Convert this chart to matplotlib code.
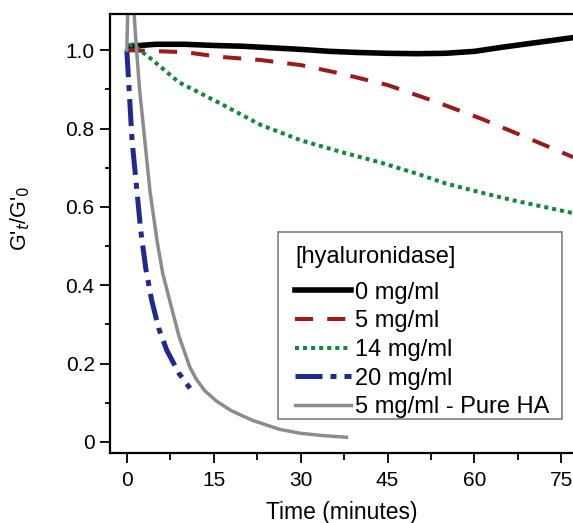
import matplotlib
matplotlib.use("Agg")
import matplotlib.pyplot as plt
from matplotlib.patches import Rectangle
from matplotlib.ticker import MultipleLocator, FixedLocator

plt.rcParams['font.family'] = ['Liberation Sans', 'DejaVu Sans']

# G't/G'0 vs time (minutes)
t_0 = [0.5, 5, 10, 15, 20, 25, 30, 35, 40, 45, 50, 55, 60, 65, 70, 77]
g_0 = [1.01, 1.015, 1.015, 1.012, 1.01, 1.006, 1.002, 0.997, 0.994, 0.992,
       0.991, 0.992, 0.997, 1.008, 1.018, 1.032]

t_5 = [0, 10, 16, 23, 30, 37, 45, 53, 61, 69, 77]
g_5 = [1.0, 0.995, 0.983, 0.975, 0.962, 0.94, 0.911, 0.87, 0.826, 0.777, 0.727]

t_14 = [0.5, 1, 4, 9, 16, 23, 30, 37, 43.6, 50, 55, 61, 66.6, 72, 77]
g_14 = [1.01, 1.015, 0.98, 0.918, 0.865, 0.81, 0.77, 0.74, 0.714, 0.685,
        0.66, 0.637, 0.617, 0.6, 0.584]

t_20 = [0, 0.9, 1.9, 2.4, 3.3, 4.3, 5.5, 6.9, 9, 10.9]
g_20 = [1.0, 0.77, 0.617, 0.54, 0.44, 0.361, 0.29, 0.234, 0.175, 0.137]

t_ha = [0, 0.3, 0.65, 1.1, 1.55, 2.2, 3.1, 4.0, 5.2, 6.2, 7.4, 9, 10.9, 12,
        13.5, 15.5, 18, 21.7, 26.4, 30, 34, 37.9]
g_ha = [1.0, 1.18, 1.3, 1.13, 1.026, 0.9, 0.77, 0.64, 0.515, 0.43, 0.361,
        0.27, 0.19, 0.16, 0.13, 0.104, 0.08, 0.055, 0.032, 0.022, 0.016, 0.012]

labels = ['0 mg/ml', '5 mg/ml', '14 mg/ml', '20 mg/ml', '5 mg/ml - Pure HA']

fig = plt.figure(figsize=(5.73, 5.23), dpi=100)
ax = fig.add_axes([0.192, 0.134, 0.808, 0.839])

ax.plot(t_0, g_0, color='black', lw=4, label=labels[0])
ax.plot(t_5, g_5, color='#9B1B1B', lw=2.9, linestyle=(0, (4.5, 3.5)), label=labels[1])
ax.plot(t_14, g_14, color='#13883C', lw=2.9, linestyle=(0, (1, 1)), label=labels[2])
ax.plot(t_20, g_20, color='#202A8E', lw=3.6, linestyle=(0, (5.4, 1.6, 1.2, 1.6)), label=labels[3])
ax.plot(t_ha, g_ha, color='#8C8C8C', lw=2.5, label=labels[4])

ax.set_xlim(-2.9, 77)
ax.set_ylim(-0.028, 1.092)
ax.xaxis.set_major_locator(FixedLocator([0, 15, 30, 45, 60, 75]))
ax.xaxis.set_minor_locator(MultipleLocator(7.5))
ax.yaxis.set_major_locator(FixedLocator([0, 0.2, 0.4, 0.6, 0.8, 1.0]))
ax.yaxis.set_minor_locator(MultipleLocator(0.1))
ax.set_yticklabels(['0', '0.2', '0.4', '0.6', '0.8', '1.0'])
ax.tick_params(which='both', direction='out', width=1.3, labelsize=15)
ax.tick_params(which='major', length=7)
ax.tick_params(axis='y', which='minor', length=3.6)
ax.tick_params(axis='x', which='minor', length=5)
ax.tick_params(axis='x', which='major', pad=6)
ax.tick_params(axis='y', which='major', pad=4)
ax.spines['right'].set_visible(False)
for s in ['left', 'bottom', 'top']:
    ax.spines[s].set_linewidth(1.6)

ax.set_xlabel('Time (minutes)', fontsize=16.5, labelpad=8)
ax.set_ylabel(r"G'$_t$/G'$_0$", fontsize=15.5)
ax.yaxis.set_label_coords(-0.168, 0.535)

# legend box drawn separately so the padding can match
ax.add_patch(Rectangle((0.363, 0.0774), 0.613, 0.4256, transform=ax.transAxes,
                       facecolor='white', edgecolor='#808080', lw=1.2, zorder=4))
leg = ax.legend(loc='upper left', bbox_to_anchor=(0.4006, 0.472), title='[hyaluronidase]',
                fontsize=17, title_fontsize=17, frameon=False,
                handlelength=2.33, handletextpad=0.2, labelspacing=0.28,
                borderpad=0, borderaxespad=0)
leg._legend_box.align = 'left'
leg._legend_box.sep = 10
leg.set_zorder(5)

fig.savefig('out.png', dpi=100)
